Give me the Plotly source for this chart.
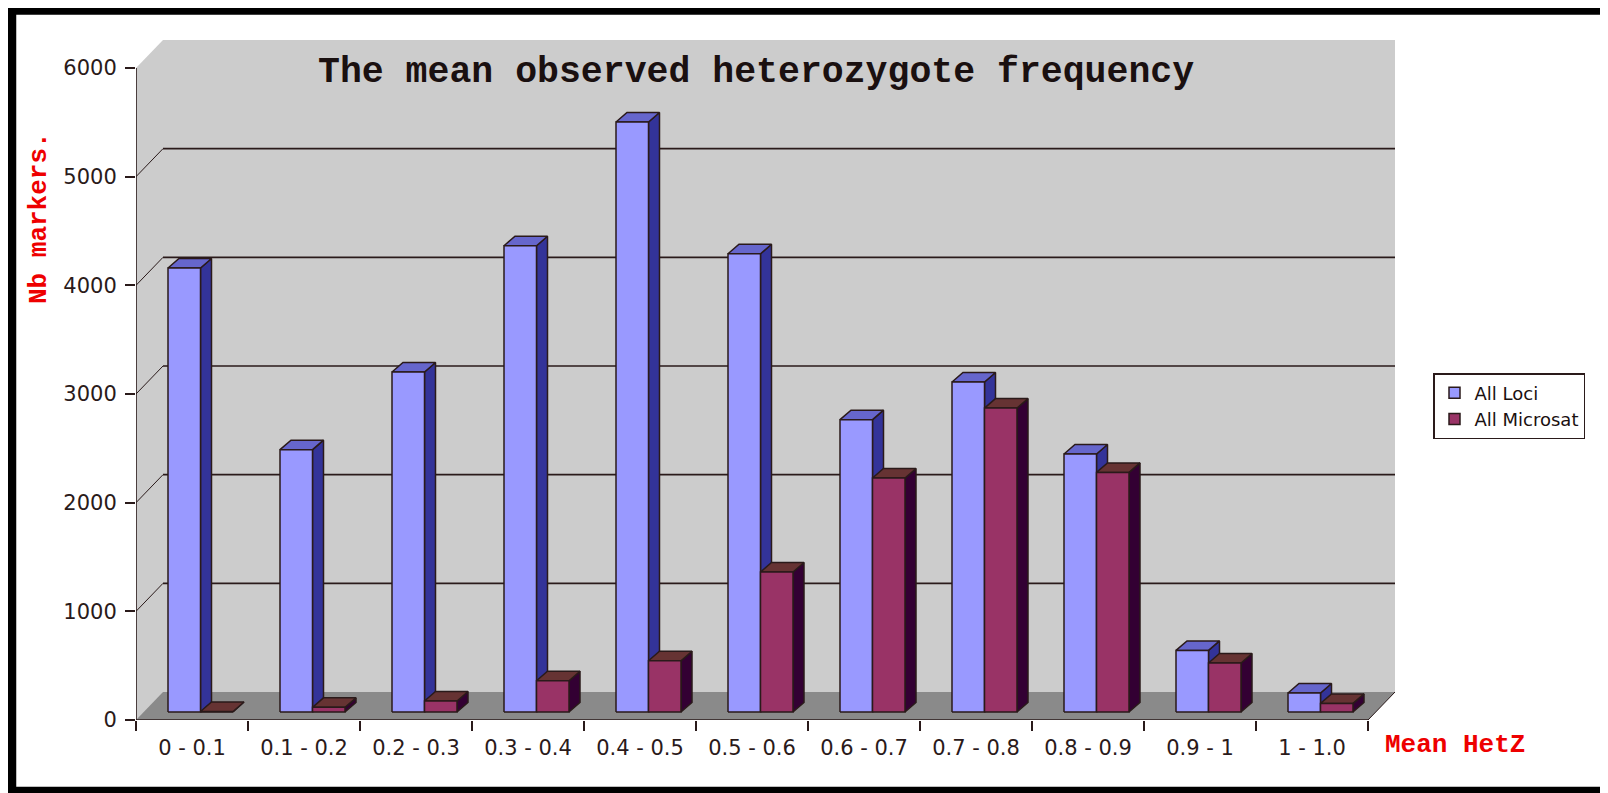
import plotly.graph_objects as go

# ---------------- data ----------------
categories = ["0 - 0.1", "0.1 - 0.2", "0.2 - 0.3", "0.3 - 0.4", "0.4 - 0.5",
              "0.5 - 0.6", "0.6 - 0.7", "0.7 - 0.8", "0.8 - 0.9", "0.9 - 1", "1 - 1.0"]
all_loci = [4086, 2414, 3129, 4291, 5429, 4217, 2690, 3037, 2374, 567, 175]
all_microsat = [5, 43, 101, 288, 472, 1288, 2153, 2797, 2205, 451, 79]
y_ticks = [0, 1000, 2000, 3000, 4000, 5000, 6000]
series_names = ["All Loci", "All Microsat"]

# ---------------- style / geometry ----------------
PAGE_OFF = 8                # browser body margin
W, H = 1608 - PAGE_OFF, 793 - PAGE_OFF
ML, MR, MT, MB = 136 - PAGE_OFF, 213, 40 - PAGE_OFF, 73
PLOT_W = W - ML - MR
PLOT_H = H - MT - MB
WALL_PX = (27, 28)          # depth offset of back wall (px)
BAR_FRONT_PX = (8.5, 8)     # offset of bar front faces from front plane (px)
BAR_DEPTH_PX = (11, 9.5)    # bar depth (px)
BAR_START_PX = 32           # left edge of first bar inside a category (px)
BAR_W_PX = 32.5             # width of each bar (px)

n = len(categories)
YMAX = y_ticks[-1]
cat_px = (PLOT_W - WALL_PX[0]) / n
unit_px = (PLOT_H - WALL_PX[1]) / YMAX
WDX, WDY = WALL_PX[0] / cat_px, WALL_PX[1] / unit_px
BFX, BFY = BAR_FRONT_PX[0] / cat_px, BAR_FRONT_PX[1] / unit_px
BDX, BDY = BAR_DEPTH_PX[0] / cat_px, BAR_DEPTH_PX[1] / unit_px
XR = n + WDX
YR = YMAX + WDY

def px2paper(px, py):
    """screen pixel (page coords) -> paper coords"""
    px -= PAGE_OFF
    py -= PAGE_OFF
    return (px - ML) / PLOT_W, (H - MB - py) / PLOT_H

OUTLINE = "#2a1a1a"
colors = {
    0: dict(front="#9999FF", top="#6666CC", side="#333399"),
    1: dict(front="#993366", top="#663333", side="#330033"),
}

fig = go.Figure()

# walls and floor
shapes = []
shapes.append(dict(type="path", layer="below", xref="x", yref="y",
                   path=f"M0,0 L0,{YMAX} L{WDX},{YR} L{XR},{YR} L{XR},{WDY} L{n},0 Z",
                   fillcolor="#CCCCCC", line=dict(width=0)))
shapes.append(dict(type="path", layer="below", xref="x", yref="y",
                   path=f"M0,0 L{n},0 L{XR},{WDY} L{WDX},{WDY} Z",
                   fillcolor="#8A8A8A", line=dict(width=0)))
# gridlines
for v in y_ticks[1:-1]:
    shapes.append(dict(type="line", layer="below", xref="x", yref="y",
                       x0=WDX, x1=XR, y0=v + WDY, y1=v + WDY,
                       line=dict(color=OUTLINE, width=1.6)))
    shapes.append(dict(type="line", layer="below", xref="x", yref="y",
                       x0=0, x1=WDX, y0=v, y1=v + WDY,
                       line=dict(color=OUTLINE, width=1)))
# axes lines
shapes.append(dict(type="line", layer="above", xref="x", yref="y",
                   x0=0, x1=n, y0=0, y1=0, line=dict(color=OUTLINE, width=1.6)))
shapes.append(dict(type="line", layer="above", xref="x", yref="y",
                   x0=0, x1=0, y0=0, y1=YMAX, line=dict(color=OUTLINE, width=1.6)))
shapes.append(dict(type="line", layer="above", xref="x", yref="y",
                   x0=n, x1=XR, y0=0, y1=WDY, line=dict(color=OUTLINE, width=1)))
# outer frame
fx0, fy0 = px2paper(11.5, 791.5)
fx1, fy1 = px2paper(1606.5, 10)
shapes.append(dict(type="rect", xref="paper", yref="paper", layer="above",
                   x0=fx0, x1=fx1, y0=fy0, y1=fy1,
                   line=dict(color="#000000", width=9.5)))

# bars as 3-D boxes
for s, vals in enumerate([all_loci, all_microsat]):
    fx, fy, tx, ty, sx, sy = [], [], [], [], [], []
    for i, v in enumerate(vals):
        x0 = i + (BAR_START_PX + s * BAR_W_PX) / cat_px
        x1 = x0 + BAR_W_PX / cat_px
        b = BFY
        t = BFY + v
        fx += [x0, x1, x1, x0, x0, None]
        fy += [b, b, t, t, b, None]
        tx += [x0, x1, x1 + BDX, x0 + BDX, x0, None]
        ty += [t, t, t + BDY, t + BDY, t, None]
        sx += [x1, x1 + BDX, x1 + BDX, x1, x1, None]
        sy += [b, b + BDY, t + BDY, t, b, None]
    c = colors[s]
    for xs, ys, col in [(sx, sy, c["side"]), (tx, ty, c["top"]), (fx, fy, c["front"])]:
        fig.add_trace(go.Scatter(x=xs, y=ys, mode="lines", fill="toself",
                                 fillcolor=col, line=dict(color=OUTLINE, width=1.5),
                                 showlegend=False, hoverinfo="skip"))

# legend entries
for s, name in enumerate(series_names):
    fig.add_trace(go.Scatter(x=[None], y=[None], mode="markers", name=name,
                             marker=dict(symbol="square", size=11, color=colors[s]["front"],
                                         line=dict(color=OUTLINE, width=1.5))))

lx, ly = px2paper(1433, 373)
tx_, ty_ = px2paper(756, 72)
yx, yy = px2paper(39, 218)
xx, xy = px2paper(1383, 745)

annotations = [
    dict(text="<b>The mean observed heterozygote frequency</b>", x=tx_, y=ty_,
         xref="paper", yref="paper", showarrow=False, xanchor="center", yanchor="middle",
         font=dict(family="Liberation Mono", size=36.5, color="#1a1010")),
    dict(text="<b>Nb markers.</b>", x=yx, y=yy, xref="paper", yref="paper",
         showarrow=False, textangle=-90, xanchor="center", yanchor="middle",
         font=dict(family="Liberation Mono", size=26, color="#EE0000")),
    dict(text="<b>Mean HetZ</b>", x=xx, y=xy, xref="paper", yref="paper",
         showarrow=False, xanchor="left", yanchor="middle",
         font=dict(family="Liberation Mono", size=26, color="#EE0000")),
]

fig.update_layout(
    width=W, height=H,
    margin=dict(l=ML, r=MR, t=MT, b=MB, autoexpand=False),
    paper_bgcolor="white", plot_bgcolor="white",
    shapes=shapes, annotations=annotations,
    showlegend=True,
    legend=dict(x=lx, y=ly, xanchor="left", yanchor="top",
                bordercolor=OUTLINE, borderwidth=1.5, bgcolor="white",
                font=dict(family="DejaVu Sans", size=18, color="#1a1010"),
                itemwidth=30, tracegroupgap=0),
    xaxis=dict(range=[0, XR], showgrid=False, zeroline=False, showline=False,
               tickmode="array", tickvals=[i + 0.5 for i in range(n)], ticktext=categories,
               ticks="", ticklabelstandoff=13,
               tickfont=dict(family="DejaVu Sans", size=21, color="#2a1a1a"),
               minor=dict(tickmode="array", tickvals=list(range(n + 1)), ticks="outside",
                          ticklen=10, tickwidth=1.6, tickcolor=OUTLINE, showgrid=False),
               fixedrange=True),
    yaxis=dict(range=[0, YR], showgrid=False, zeroline=False, showline=False,
               tickmode="array", tickvals=y_ticks, ticktext=[str(v) for v in y_ticks],
               ticks="outside", ticklen=10, tickwidth=1.6, tickcolor=OUTLINE,
               ticklabelstandoff=4,
               tickfont=dict(family="DejaVu Sans", size=21, color="#2a1a1a"),
               fixedrange=True),
)

fig.write_html("out.html")
